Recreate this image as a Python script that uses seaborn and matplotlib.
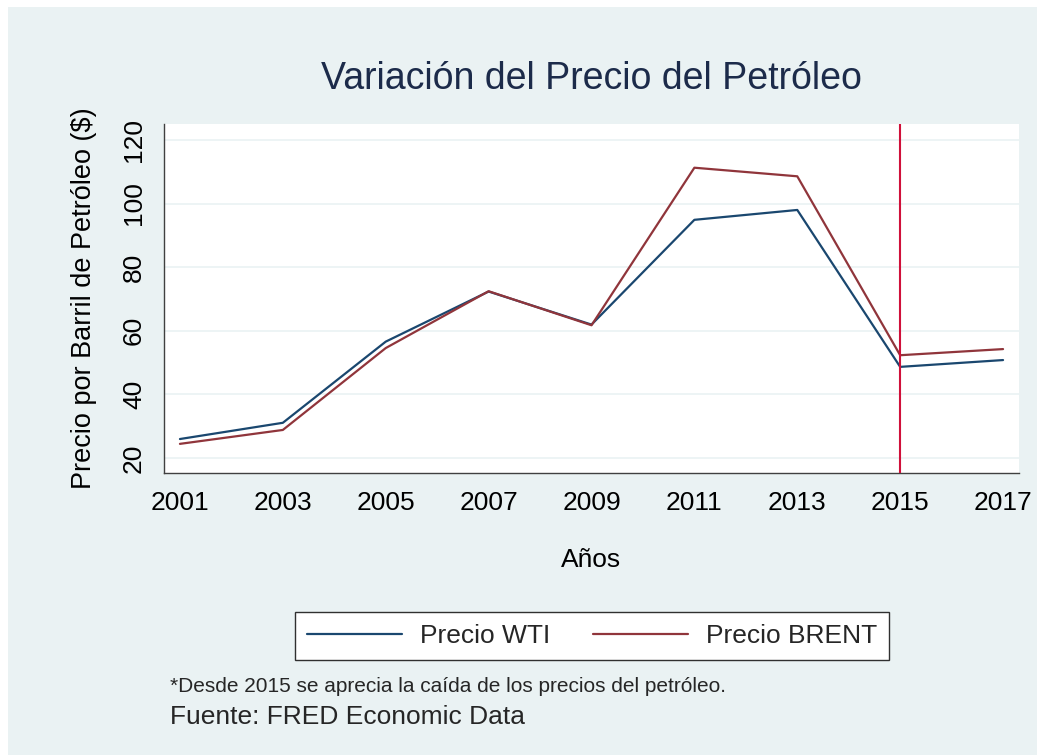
import matplotlib
matplotlib.use('Agg')
import matplotlib.pyplot as plt
import matplotlib.patches as patches
import pandas as pd
import seaborn as sns

years = [2001, 2003, 2005, 2007, 2009, 2011, 2013, 2015, 2017]
wti = [25.98, 31.08, 56.59, 72.34, 61.95, 94.88, 97.98, 48.66, 50.80]
brent = [24.46, 28.83, 54.57, 72.44, 61.74, 111.26, 108.56, 52.32, 54.25]
y_ticks = [20, 40, 60, 80, 100, 120]
crisis_year = 2015

bg = '#eaf2f3'
navy = '#1a476f'
maroon = '#90353b'

sns.set_style('white')
plt.rcParams['font.family'] = ['Liberation Sans', 'DejaVu Sans']

df = pd.DataFrame({'Año': years, 'Precio WTI': wti, 'Precio BRENT': brent})
long = df.melt(id_vars='Año', var_name='serie', value_name='precio')

fig = plt.figure(figsize=(10.39, 7.55), dpi=100)
fig.patch.set_facecolor('white')
fig.patches.append(patches.Rectangle((8 / 1039, 0), 1029 / 1039, 748 / 755,
                                     transform=fig.transFigure, facecolor=bg,
                                     edgecolor='none', zorder=-10))

ax = fig.add_axes([164 / 1039, 1 - 473 / 755, 855 / 1039, 349 / 755])
ax.set_facecolor('white')

sns.lineplot(data=long, x='Año', y='precio', hue='serie',
             palette={'Precio WTI': navy, 'Precio BRENT': maroon},
             linewidth=1.6, ax=ax, legend=False)
ax.axvline(crisis_year, color='#d0103a', linewidth=1.5, zorder=3)

ax.set_xlim(2000.69, 2017.31)
ax.set_ylim(15.3, 125)
ax.set_xticks(years)
ax.set_yticks(y_ticks)
ax.yaxis.grid(True, color=bg, linewidth=1.2)
ax.xaxis.grid(False)
ax.set_axisbelow(True)

for side in ['top', 'right']:
    ax.spines[side].set_visible(False)
for side in ['left', 'bottom']:
    ax.spines[side].set_color('#404040')
    ax.spines[side].set_linewidth(1.0)

ax.tick_params(axis='both', direction='out', length=8, width=1, color='#404040',
               labelsize=19, labelcolor='black', pad=5)
plt.setp(ax.get_yticklabels(), rotation=90, va='center')

ax.set_xlabel('Años', fontsize=19, labelpad=24, color='black')
ax.set_ylabel('Precio por Barril de Petróleo ($)', fontsize=19.5, labelpad=18,
              color='black')

fig.text(591 / 1039, 1 - 79 / 755, 'Variación del Precio del Petróleo',
         ha='center', va='center', fontsize=27, color='#1c2b4a')

handles = [plt.Line2D([], [], color=navy, linewidth=1.6),
           plt.Line2D([], [], color=maroon, linewidth=1.6)]
leg = fig.legend(handles, ['Precio WTI', 'Precio BRENT'], ncol=2,
                 loc='center', bbox_to_anchor=(592 / 1039, 1 - 636 / 755),
                 fontsize=19, frameon=True, fancybox=False, handlelength=3.6,
                 handletextpad=0.7, columnspacing=1.6, borderpad=0.45,
                 borderaxespad=0, framealpha=1.0, facecolor='white')
leg.get_frame().set_edgecolor('#303030')
leg.get_frame().set_linewidth(1.0)

fig.text(170 / 1039, 1 - 686 / 755,
         '*Desde 2015 se aprecia la caída de los precios del petróleo.',
         ha='left', va='center', fontsize=15)
fig.text(170 / 1039, 1 - 717 / 755, 'Fuente: FRED Economic Data',
         ha='left', va='center', fontsize=19)

fig.savefig('out.png', dpi=100, facecolor=fig.get_facecolor())
